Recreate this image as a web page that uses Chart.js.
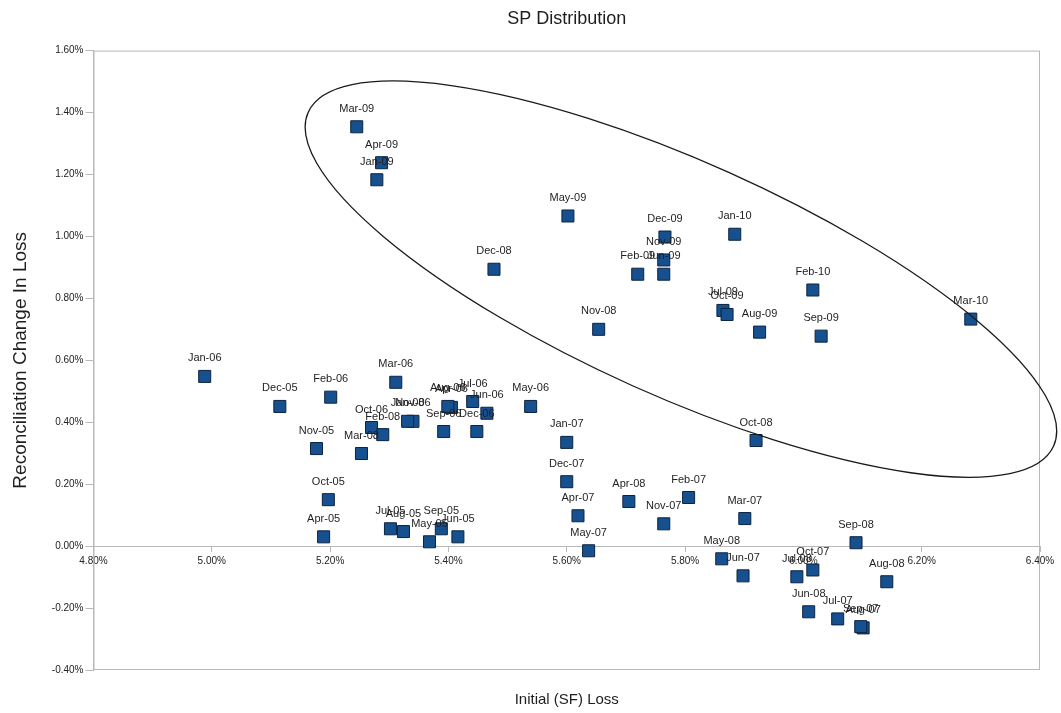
<!DOCTYPE html>
<html>
<head>
<meta charset="utf-8">
<title>SP Distribution</title>
<script src="https://cdn.jsdelivr.net/npm/chart.js@4/dist/chart.umd.min.js"></script>
<style>
  html, body { margin: 0; padding: 0; background: #fff; }
  #wrap { width: 1061px; height: 713px; }
</style>
</head>
<body>
<div id="wrap"><canvas id="spChart"></canvas></div>
<script>
// month labels, one per point
var months = [
    'Apr-05', 'May-05', 'Jun-05', 'Jul-05', 'Aug-05', 'Sep-05', 'Oct-05', 'Nov-05', 'Dec-05',
    'Jan-06', 'Feb-06', 'Mar-06', 'Apr-06', 'May-06', 'Jun-06', 'Jul-06', 'Aug-06', 'Sep-06', 'Oct-06', 'Nov-06', 'Dec-06',
    'Jan-07', 'Feb-07', 'Mar-07', 'Apr-07', 'May-07', 'Jun-07', 'Jul-07', 'Aug-07', 'Sep-07', 'Oct-07', 'Nov-07', 'Dec-07',
    'Jan-08', 'Feb-08', 'Mar-08', 'Apr-08', 'May-08', 'Jun-08', 'Jul-08', 'Aug-08', 'Sep-08', 'Oct-08', 'Nov-08', 'Dec-08',
    'Jan-09', 'Feb-09', 'Mar-09', 'Apr-09', 'May-09', 'Jun-09', 'Jul-09', 'Aug-09', 'Sep-09', 'Oct-09', 'Nov-09', 'Dec-09',
    'Jan-10', 'Feb-10', 'Mar-10'
];

// Initial (SF) Loss, %
var initialLoss = [
    5.189, 5.368, 5.416, 5.302, 5.324, 5.388, 5.197, 5.177, 5.115,
    4.988, 5.201, 5.311, 5.405, 5.539, 5.465, 5.441, 5.399, 5.392, 5.270, 5.340, 5.448,
    5.600, 5.806, 5.901, 5.619, 5.637, 5.898, 6.058, 6.101, 6.097, 6.016, 5.764, 5.600,
    5.331, 5.289, 5.253, 5.705, 5.862, 6.009, 5.989, 6.141, 6.089, 5.920, 5.654, 5.477,
    5.279, 5.720, 5.245, 5.287, 5.602, 5.764, 5.864, 5.926, 6.030, 5.871, 5.764, 5.766,
    5.884, 6.016, 6.283
];

// Reconciliation change in loss, %
var reconChange = [
    0.030, 0.014, 0.030, 0.056, 0.047, 0.056, 0.150, 0.315, 0.451,
    0.548, 0.481, 0.529, 0.448, 0.451, 0.429, 0.467, 0.451, 0.370, 0.383, 0.403, 0.370,
    0.335, 0.157, 0.089, 0.098, -0.015, -0.096, -0.235, -0.264, -0.260, -0.077, 0.072, 0.208,
    0.403, 0.360, 0.299, 0.144, -0.041, -0.212, -0.099, -0.115, 0.011, 0.341, 0.700, 0.894,
    1.183, 0.878, 1.354, 1.238, 1.066, 0.878, 0.761, 0.691, 0.678, 0.748, 0.924, 0.998,
    1.007, 0.827, 0.733
];

var xTicks = [4.8, 5.0, 5.2, 5.4, 5.6, 5.8, 6.0, 6.2, 6.4];
var yTicks = [-0.4, -0.2, 0.0, 0.2, 0.4, 0.6, 0.8, 1.0, 1.2, 1.4, 1.6];

// hand drawn ellipse round the 2008-2010 group (tips in data units)
var ellipseLeftTip = [5.163, 1.401];
var ellipseRightTip = [6.423, 0.323];
var ellipseMinor = 0.189; // half width, share of the plot height

var points = [];
for (var i = 0; i < months.length; i++) {
    points.push({ x: initialLoss[i], y: reconChange[i] });
}

var fontFam = '"Liberation Sans", Arial, sans-serif';
var axisGrey = '#b8b8b8';

function pct(v) {
    return v.toFixed(2) + '%';
}

var pointLabels = {
    id: 'pointLabels',
    afterDatasetsDraw: function(chart) {
        var ctx = chart.ctx;
        var meta = chart.getDatasetMeta(0);
        ctx.save();
        ctx.font = '11px ' + fontFam;
        ctx.fillStyle = '#1e1e1e';
        ctx.textAlign = 'center';
        ctx.textBaseline = 'middle';
        meta.data.forEach(function(el, idx) {
            ctx.fillText(months[idx], el.x, el.y - 18);
        });
        ctx.restore();
    }
};

var frameAndEllipse = {
    id: 'frameAndEllipse',
    beforeDatasetsDraw: function(chart) {
        var a = chart.chartArea;
        var ctx = chart.ctx;
        ctx.save();
        ctx.strokeStyle = axisGrey;
        ctx.lineWidth = 1;
        ctx.strokeRect(a.left + 0.5, a.top + 0.5, a.right - a.left - 1, a.bottom - a.top - 1);
        ctx.restore();
    },
    afterDraw: function(chart) {
        var sx = chart.scales.x, sy = chart.scales.y;
        var x1 = sx.getPixelForValue(ellipseLeftTip[0]), y1 = sy.getPixelForValue(ellipseLeftTip[1]);
        var x2 = sx.getPixelForValue(ellipseRightTip[0]), y2 = sy.getPixelForValue(ellipseRightTip[1]);
        var ctx = chart.ctx;
        ctx.save();
        ctx.beginPath();
        ctx.ellipse((x1 + x2) / 2, (y1 + y2) / 2,
            Math.hypot(x2 - x1, y2 - y1) / 2,
            ellipseMinor * (chart.chartArea.bottom - chart.chartArea.top),
            Math.atan2(y2 - y1, x2 - x1), 0, Math.PI * 2);
        ctx.strokeStyle = '#1a1a1a';
        ctx.lineWidth = 1.3;
        ctx.stroke();
        ctx.restore();
    }
};

var ctx = document.getElementById('spChart').getContext('2d');
new Chart(ctx, {
    type: 'scatter',
    data: {
        datasets: [{
            label: 'SP',
            data: points,
            pointStyle: 'rect',
            pointRadius: 8.5,
            pointHoverRadius: 8.5,
            backgroundColor: '#17508f',
            borderColor: '#0b2440',
            borderWidth: 1
        }]
    },
    options: {
        responsive: true,
        maintainAspectRatio: false,
        animation: false,
        layout: { padding: { left: 9, right: 21, top: 6, bottom: 4 } },
        plugins: {
            legend: { display: false },
            tooltip: { enabled: false },
            title: {
                display: true,
                fullSize: false,
                text: 'SP Distribution',
                color: '#1e1e1e',
                font: { family: fontFam, size: 18, weight: 'normal' },
                padding: { top: 2, bottom: 21 }
            },
            subtitle: {
                display: true,
                fullSize: false,
                position: 'bottom',
                text: 'Initial (SF) Loss',
                color: '#1e1e1e',
                font: { family: fontFam, size: 15, weight: 'normal' },
                padding: { top: 21, bottom: 0 }
            }
        },
        scales: {
            x: {
                type: 'linear',
                position: { y: 0 },
                min: xTicks[0],
                max: xTicks[xTicks.length - 1],
                afterBuildTicks: function(scale) {
                    scale.ticks = xTicks.map(function(v) { return { value: v }; });
                },
                ticks: {
                    callback: function(v) { return pct(v); },
                    color: '#222',
                    font: { family: fontFam, size: 10 },
                    maxRotation: 0,
                    padding: 4
                },
                grid: { drawOnChartArea: false, drawTicks: true, tickLength: 5, color: axisGrey },
                border: { color: axisGrey }
            },
            y: {
                type: 'linear',
                min: yTicks[0],
                max: yTicks[yTicks.length - 1],
                afterBuildTicks: function(scale) {
                    scale.ticks = yTicks.map(function(v) { return { value: v }; });
                },
                ticks: {
                    callback: function(v) { return pct(v); },
                    color: '#222',
                    font: { family: fontFam, size: 10 },
                    padding: 2
                },
                grid: { drawOnChartArea: false, drawTicks: true, tickLength: 8, color: axisGrey },
                border: { color: axisGrey },
                title: {
                    display: true,
                    text: 'Reconciliation Change In Loss',
                    color: '#1e1e1e',
                    font: { family: fontFam, size: 19, weight: 'normal' },
                    padding: { top: 0, bottom: 18 }
                }
            }
        }
    },
    plugins: [frameAndEllipse, pointLabels]
});
</script>
</body>
</html>
